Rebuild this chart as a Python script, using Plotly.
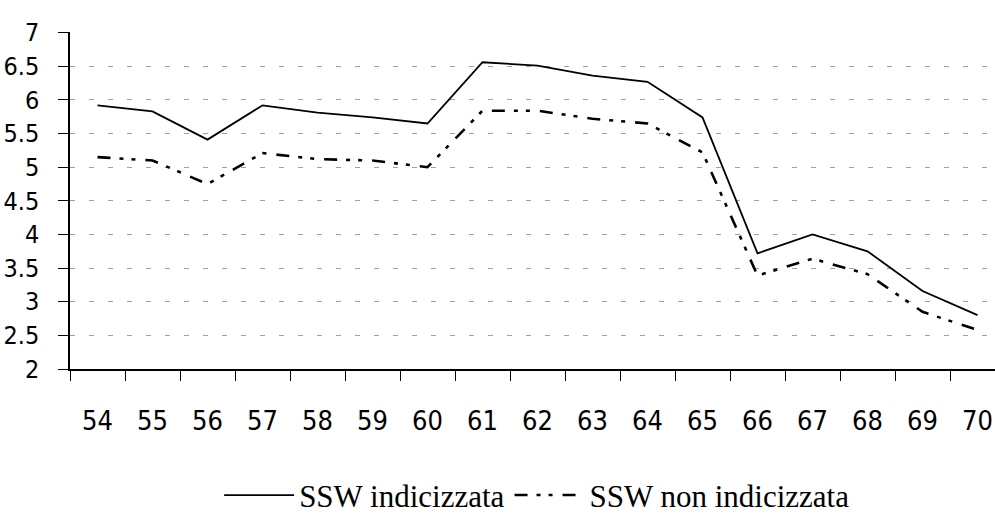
import plotly.graph_objects as go

# Età (anni) e valori delle due serie
eta = ["54", "55", "56", "57", "58", "59", "60", "61", "62", "63",
       "64", "65", "66", "67", "68", "69", "70"]
ssw_indicizzata = [5.92, 5.83, 5.41, 5.92, 5.81, 5.74, 5.65, 6.56, 6.51, 6.36,
                   6.27, 5.74, 3.72, 4.00, 3.75, 3.16, 2.80]
ssw_non_indicizzata = [5.15, 5.10, 4.75, 5.21, 5.12, 5.10, 5.00, 5.84, 5.84, 5.72,
                       5.65, 5.22, 3.39, 3.64, 3.41, 2.85, 2.58]

y_tick_vals = [2, 2.5, 3, 3.5, 4, 4.5, 5, 5.5, 6, 6.5, 7]
y_tick_text = ["2", "2.5", "3", "3.5", "4", "4.5", "5", "5.5", "6", "6.5", "7"]

fig = go.Figure()
fig.add_trace(go.Scatter(
    x=eta, y=ssw_indicizzata, mode="lines", name="SSW indicizzata",
    line=dict(color="black", width=1.8),
))
fig.add_trace(go.Scatter(
    x=eta, y=ssw_non_indicizzata, mode="lines", name="SSW non indicizzata",
    line=dict(color="black", width=2.6, dash="13px,9px,4px,8px,4px,10px"),
))

narrow = "DejaVu Sans Condensed, Liberation Sans Narrow, Arial Narrow, Liberation Sans, sans-serif"

fig.update_layout(
    width=995, height=517,
    margin=dict(l=70, r=0, t=32, b=148, autoexpand=False),
    plot_bgcolor="white", paper_bgcolor="white",
    showlegend=True,
    legend=dict(
        orientation="h", x=0.505, xanchor="center", y=-0.375, yanchor="middle",
        font=dict(family="Liberation Serif, Times New Roman, serif", size=31, color="black"),
        itemwidth=70, bgcolor="rgba(0,0,0,0)",
    ),
    xaxis=dict(
        type="category", range=[-0.5, 16.318], automargin=False,
        showline=True, linecolor="black", linewidth=1.5,
        ticks="outside", ticklen=10, tickcolor="black", tickwidth=1,
        tickson="boundaries", showgrid=False,
        tickfont=dict(family=narrow, size=27, color="black"),
        ticklabelstandoff=27,
    ),
    yaxis=dict(
        range=[2, 7.01], tickvals=y_tick_vals, ticktext=y_tick_text, automargin=False,
        showline=True, linecolor="black", linewidth=1.5,
        ticks="outside", ticklen=10, tickcolor="black", tickwidth=1,
        showgrid=True, gridcolor="#a0a0a0", gridwidth=1, griddash="5px,14px",
        zeroline=False,
        tickfont=dict(family=narrow, size=25, color="black"),
        ticklabelstandoff=14,
    ),
)

fig.write_html("out.html")
